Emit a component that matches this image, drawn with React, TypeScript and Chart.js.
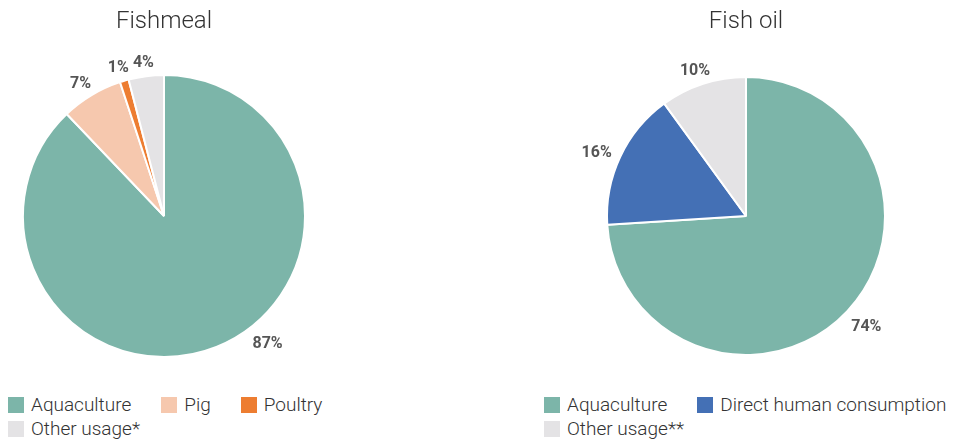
import React, { useEffect, useRef } from "react";
import { Chart, registerables } from "chart.js";

Chart.register(...registerables);

const FISHMEAL_LABELS = ["Aquaculture", "Pig", "Poultry", "Other usage*"];
const FISHMEAL_VALUES = [87, 7, 1, 4];
const FISHMEAL_COLORS = ["#7cb5a9", "#f6c8ae", "#ed7d31", "#e4e3e5"];

const FISHOIL_LABELS = ["Aquaculture", "Direct human consumption", "Other usage**"];
const FISHOIL_VALUES = [74, 16, 10];
const FISHOIL_COLORS = ["#7cb5a9", "#4470b5", "#e4e3e5"];

const FONT = "Roboto, 'Noto Sans', sans-serif";

const outsideLabels = {
  id: "outsideLabels",
  afterDatasetsDraw(chart: any, _args: any, opts: any) {
    const ctx = chart.ctx;
    const meta = chart.getDatasetMeta(0);
    const values = chart.data.datasets[0].data;
    ctx.save();
    ctx.font = `${opts.weight} ${opts.size}px ${FONT}`;
    ctx.fillStyle = opts.color;
    ctx.textAlign = "center";
    ctx.textBaseline = "middle";
    const limit = chart.chartArea.bottom - opts.bottomGap;
    meta.data.forEach((arc: any, i: number) => {
      const { x, y, startAngle, endAngle, outerRadius } = arc.getProps(
        ["x", "y", "startAngle", "endAngle", "outerRadius"],
        true
      );
      const text = `${values[i]}%`;
      const w = ctx.measureText(text).width;
      const h = opts.size * 0.8;
      const place = (a: number) => {
        const c = Math.cos(a);
        const s = Math.sin(a);
        const d = outerRadius + opts.offset;
        return { px: x + d * c + (w / 2) * c, py: y + d * s + (h / 2) * s + opts.shiftY };
      };
      let a = (startAngle + endAngle) / 2;
      let p = place(a);
      if (p.py + h / 2 > limit) {
        const norm = ((a % (2 * Math.PI)) + 2 * Math.PI) % (2 * Math.PI);
        const dir = norm < Math.PI / 2 ? -1 : 1;
        let guard = 0;
        while (p.py + h / 2 > limit && guard < 400) {
          a += dir * (Math.PI / 360);
          p = place(a);
          guard++;
        }
      }
      ctx.fillText(text, p.px, p.py);
    });
    ctx.restore();
  },
};

type PieProps = {
  title: string;
  labels: string[];
  values: number[];
  colors: string[];
  radius: number;
  left: number;
};

function PieChart({ title, labels, values, colors, radius, left }: PieProps) {
  const ref = useRef<HTMLCanvasElement | null>(null);
  useEffect(() => {
    if (!ref.current) return;
    const chart = new Chart(ref.current, {
      type: "pie",
      data: {
        labels,
        datasets: [
          {
            data: values,
            backgroundColor: colors,
            borderColor: "#ffffff",
            borderWidth: 2,
            radius,
            clip: false as any,
          } as any,
        ],
      },
      options: {
        responsive: false,
        animation: false,
        layout: { padding: { top: 0, bottom: 34, left: 0, right: 0 } },
        plugins: {
          legend: { display: false },
          tooltip: { enabled: false },
          title: {
            display: true,
            text: title,
            color: "#333333",
            font: { family: FONT, size: 24, weight: "300" as any },
            padding: { top: 8, bottom: 39.2 },
          },
          outsideLabels: {
            size: 16,
            weight: "bold",
            color: "#555555",
            offset: 11,
            shiftY: 4,
            bottomGap: 5,
          },
        } as any,
      },
      plugins: [outsideLabels],
    });
    return () => chart.destroy();
  }, []);
  return (
    <canvas
      ref={ref}
      width={328}
      height={390}
      style={{ position: "absolute", left, top: 0, width: 328, height: 390 }}
    />
  );
}

function Legend({ labels, colors, left, width }: { labels: string[]; colors: string[]; left: number; width: number }) {
  return (
    <div
      style={{
        position: "absolute",
        left,
        top: 393,
        width,
        display: "flex",
        flexWrap: "wrap",
        columnGap: 30,
        rowGap: 0,
        fontFamily: FONT,
        fontWeight: 300,
        fontSize: 19,
        color: "#333333",
        lineHeight: "24px",
      }}
    >
      {labels.map((l, i) => (
        <div key={l} style={{ display: "flex", alignItems: "center", height: 24, whiteSpace: "nowrap" }}>
          <span style={{ display: "inline-block", width: 16, height: 16, background: colors[i], marginRight: 7, flex: "none" }} />
          <span>{l}</span>
        </div>
      ))}
    </div>
  );
}

export default function App() {
  return (
    <div style={{ position: "absolute", left: 0, top: 0, width: 953, height: 442, overflow: "hidden", background: "#fff" }}>
      <PieChart title="Fishmeal" labels={FISHMEAL_LABELS} values={FISHMEAL_VALUES} colors={FISHMEAL_COLORS} radius={141} left={0} />
      <PieChart title="Fish oil" labels={FISHOIL_LABELS} values={FISHOIL_VALUES} colors={FISHOIL_COLORS} radius={139} left={582} />
      <Legend labels={FISHMEAL_LABELS} colors={FISHMEAL_COLORS} left={8} width={400} />
      <Legend labels={FISHOIL_LABELS} colors={FISHOIL_COLORS} left={544} width={420} />
    </div>
  );
}
